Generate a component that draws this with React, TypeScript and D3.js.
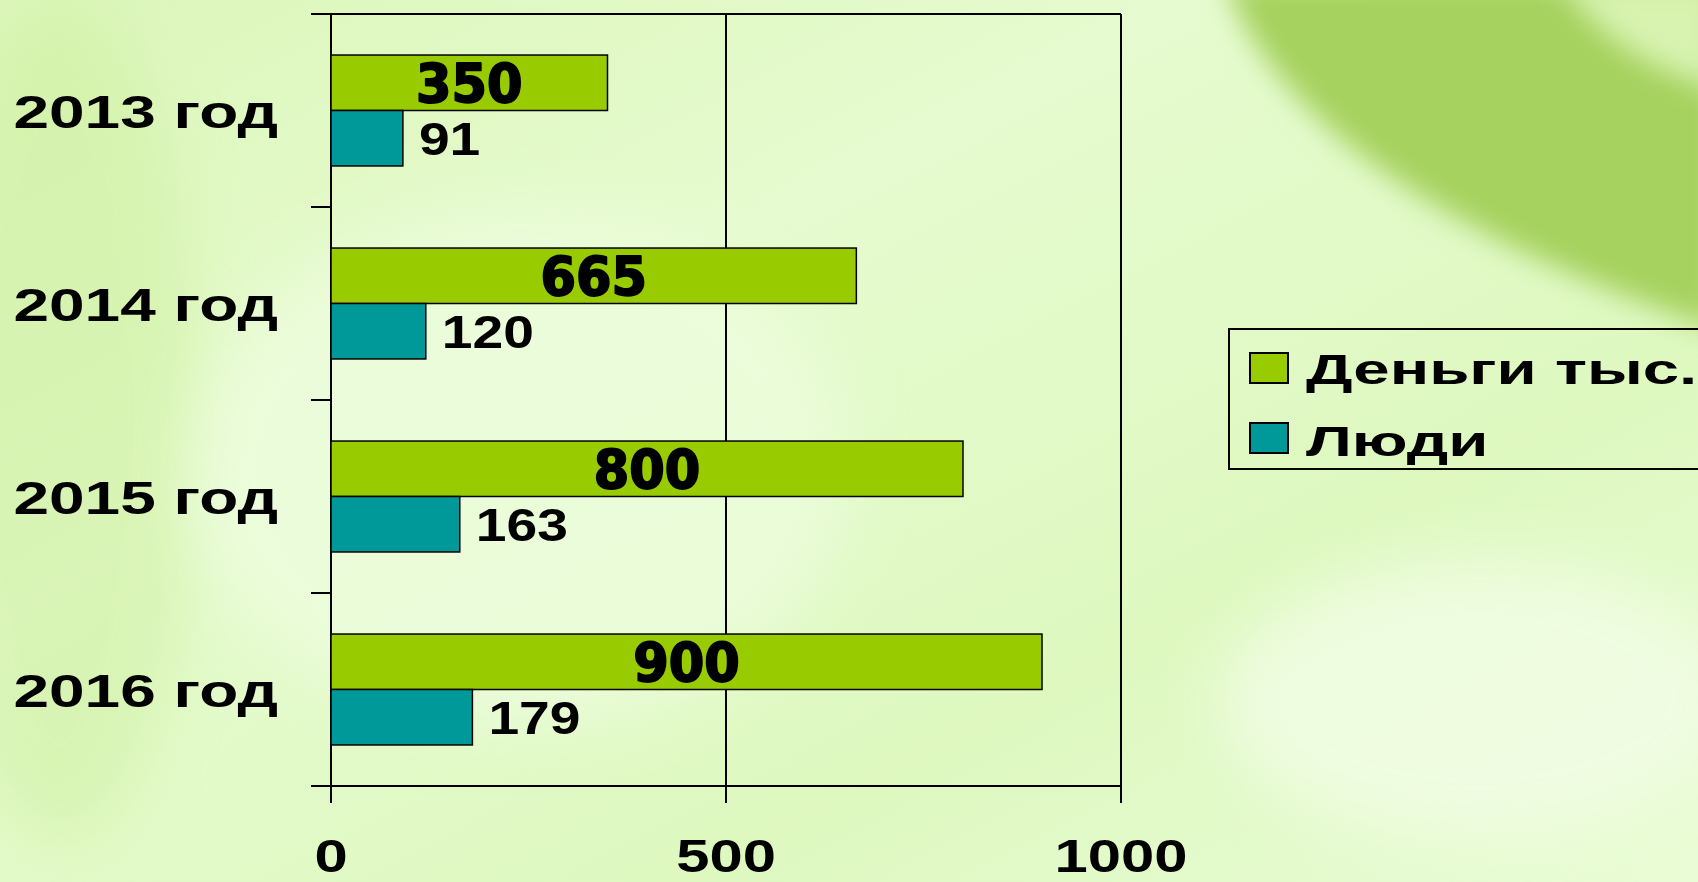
import * as d3 from 'd3';
import { useEffect } from 'react';

const categories = ['2013 год', '2014 год', '2015 год', '2016 год'];
const seriesNames = ['Деньги тыс.', 'Люди'];
const money = [350, 665, 800, 900];
const people = [91, 120, 163, 179];
const xTicks = [0, 500, 1000];
const colors = ['#99cc00', '#009999'];

const W = 1698;
const H = 882;

// horizontally stretched text (the source slide was stretched)
const SText = ({ x, y, sx, size, anchor, family, stretch, stroke, children }: any) => (
  <g transform={`translate(${x},${y}) scale(${sx},1)`}>
    <text
      textAnchor={anchor || 'start'}
      fontFamily={family || '"Liberation Sans", Arial, sans-serif'}
      fontWeight="bold"
      fontSize={size}
      fontStretch={stretch || 'normal'}
      fill="#000"
      stroke={stroke ? '#000' : 'none'}
      strokeWidth={stroke || 0}
      strokeLinejoin="round"
    >
      {children}
    </text>
  </g>
);

export default function App() {
  useEffect(() => {
    document.body.style.margin = '0';
    document.body.style.overflow = 'hidden';
  }, []);

  const x = d3.scaleLinear().domain([0, 1000]).range([331, 1121]);
  const y = d3.scaleBand().domain(categories).range([14, 786]).padding(0);
  const inner = d3.scaleBand().domain(seriesNames).range([0, y.bandwidth()])
    .paddingInner(0).paddingOuter(0.74);
  const values = [money, people];
  const bounds = d3.range(categories.length + 1).map(i => 14 + i * y.step());

  return (
    <svg width={W} height={H} style={{ position: 'absolute', left: 0, top: 0, display: 'block' }}>
      <defs>
        <linearGradient id="bg" x1="0" y1="0" x2="1" y2="1">
          <stop offset="0" stopColor="#dcf6ba" />
          <stop offset="0.35" stopColor="#e6fbcf" />
          <stop offset="0.7" stopColor="#def8c0" />
          <stop offset="1" stopColor="#e9fcd6" />
        </linearGradient>
        <filter id="blur" x="-20%" y="-20%" width="140%" height="140%">
          <feGaussianBlur stdDeviation="14" />
        </filter>
        <filter id="blur2" x="-20%" y="-20%" width="140%" height="140%">
          <feGaussianBlur stdDeviation="30" />
        </filter>
      </defs>

      {/* background */}
      <rect x={0} y={0} width={W} height={H} fill="url(#bg)" />
      <ellipse cx={60} cy={420} rx={140} ry={420} fill="#cdef9e" opacity={0.5} filter="url(#blur2)" />
      <ellipse cx={520} cy={470} rx={330} ry={260} fill="#eefde0" opacity={0.7} filter="url(#blur2)" />
      <ellipse cx={1480} cy={700} rx={260} ry={140} fill="#f2fde6" opacity={0.8} filter="url(#blur2)" />
      <path
        d="M1225,-20 C1270,110 1420,230 1720,330 L1720,-20 Z"
        fill="#a6d25e"
        filter="url(#blur)"
      />
      <path
        d="M1560,-20 C1600,40 1650,70 1720,90 L1720,-20 Z"
        fill="#d8f3b0"
        filter="url(#blur)"
      />

      {/* plot frame and grid */}
      <line x1={x(0)} x2={x(1000)} y1={14} y2={14} stroke="#000" strokeWidth={2} />
      {xTicks.map(t => (
        <line key={t} x1={x(t)} x2={x(t)} y1={14} y2={803} stroke="#000" strokeWidth={2} />
      ))}
      <line x1={311} x2={x(1000)} y1={786} y2={786} stroke="#000" strokeWidth={2} />
      {bounds.map((b, i) => (
        <line key={i} x1={311} x2={x(0)} y1={b} y2={b} stroke="#000" strokeWidth={2} />
      ))}

      {/* bars */}
      {categories.map((c, ci) => (
        <g key={c} transform={`translate(0,${y(c)})`}>
          {seriesNames.map((s, si) => (
            <rect
              key={s}
              x={x(0)}
              y={inner(s)}
              width={x(values[si][ci]) - x(0)}
              height={inner.bandwidth()}
              fill={colors[si]}
              stroke="#000"
              strokeWidth={1.5}
            />
          ))}
          <SText
            x={(x(0) + x(money[ci])) / 2}
            y={(inner(seriesNames[0]) as number) + inner.bandwidth() / 2 + 19}
            sx={1.05}
            size={54}
            anchor="middle"
            family='"DejaVu Sans", sans-serif'
            stretch="condensed"
            stroke={1.8}
          >
            {money[ci]}
          </SText>
          <SText
            x={x(people[ci]) + 16}
            y={(inner(seriesNames[1]) as number) + inner.bandwidth() / 2 + 17}
            sx={1.2}
            size={46}
          >
            {people[ci]}
          </SText>
          <SText x={278} y={y.bandwidth() / 2 + 17} sx={1.36} size={47} anchor="end">
            {c}
          </SText>
        </g>
      ))}

      {/* x tick labels */}
      {xTicks.map(t => (
        <SText key={t} x={x(t)} y={872} sx={1.3} size={46} anchor="middle">
          {t}
        </SText>
      ))}

      {/* legend */}
      <rect x={1229} y={329} width={500} height={140} fill="none" stroke="#000" strokeWidth={2} />
      {seriesNames.map((s, i) => (
        <g key={s}>
          <rect x={1250} y={353 + i * 70} width={38} height={30} fill={colors[i]} stroke="#000" strokeWidth={2} />
          <SText x={1306} y={384 + i * 72} sx={1.52} size={43}>
            {s}
          </SText>
        </g>
      ))}
    </svg>
  );
}
